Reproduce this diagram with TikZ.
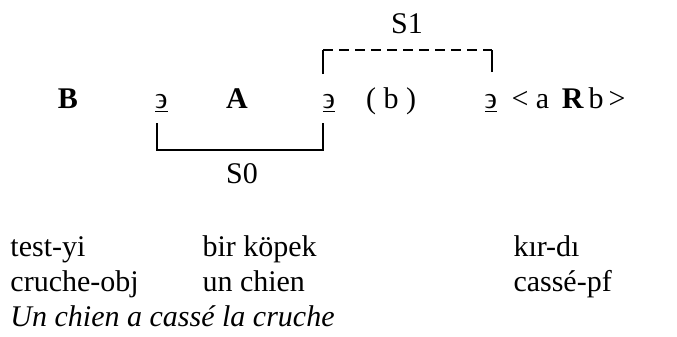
\documentclass[tikz,border=0pt]{standalone}
\usepackage{fontspec}
\setmainfont{Liberation Serif}
\usetikzlibrary{positioning}
\tikzset{
  lbl/.style={inner sep=0pt,anchor=base,font=\fontsize{12}{14}\selectfont},
  gloss/.style={inner sep=0pt,anchor=base west,font=\fontsize{12}{14}\selectfont},
  bar/.style={line width=0.7pt},
  dashbar/.style={line width=0.6pt,dash pattern=on 4pt off 2.4pt},
}
\newcommand{\niu}{\underline{϶}}
\begin{document}
\begin{tikzpicture}[x=0.4pt,y=-0.4pt]
  \useasboundingbox (0,0) rectangle (677,336);
  % main line
  \node[lbl,font=\fontsize{12}{14}\selectfont\bfseries] (bset) at (68,108) {B};
  \node[lbl] (ni1) at (161.5,108) {\niu};
  \node[lbl,font=\fontsize{12}{14}\selectfont\bfseries] (aset) at (237,108) {A};
  \node[lbl] (ni2) at (329,108) {\niu};
  \node[lbl] (bvar) at (391,108) {( b )};
  \node[lbl] (ni3) at (491,108) {\niu};
  \node[gloss] (rel) at (511,108) {< a \,\textbf{R}\kern2pt b\kern2pt>};
  % scopes
  \node[lbl] (s1) at (407,33) {S1};
  \node[lbl] (s0) at (242,183) {S0};
  \coordinate (s1l) at (323,74);
  \coordinate (s1r) at (492,72);
  \coordinate (s0l) at (157,123);
  \coordinate (s0r) at (323,123);
  \draw[bar] (s1l) -- (s1l |- 0,50);
  \draw[bar] (s1r) -- (s1r |- 0,50);
  \draw[dashbar] (s1l |- 0,50) -- (s1r |- 0,50);
  \draw[bar] (s0l) -- (s0l |- 0,150) -- (s0r |- 0,150) -- (s0r);
  % glosses
  \node[gloss] (tr1) at (10,256) {test-yi};
  \node[gloss] (tr2) at (202,256) {bir köpek};
  \node[gloss] (tr3) at (513,256) {kır-dı};
  \node[gloss] (fr1) at (10,291) {cruche-obj};
  \node[gloss] (fr2) at (202,291) {un chien};
  \node[gloss] (fr3) at (513,291) {cassé-pf};
  \node[gloss,font=\fontsize{12}{14}\selectfont\itshape] (trad) at (10,326) {Un chien a cassé la cruche};
\end{tikzpicture}
\end{document}
